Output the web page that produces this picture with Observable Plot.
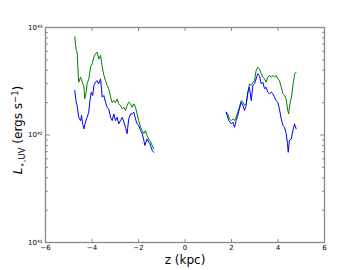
<!DOCTYPE html>
<html><head><meta charset="utf-8">
<script src="https://cdn.jsdelivr.net/npm/d3@7"></script>
<script src="https://cdn.jsdelivr.net/npm/@observablehq/plot@0.6"></script>
<style>body{margin:0;background:#fff} svg{display:block}</style>
</head><body><div id="chart"></div>
<script>
// z positions (kpc) and luminosities (units of 1e42 erg/s)
const zGreenLeft = [-4.74,-4.68,-4.64,-4.59,-4.57,-4.49,-4.42,-4.35,-4.31,-4.25,-4.21,-4.14,-4.06,-3.99,-3.92,-3.85,-3.78,-3.71,-3.63,-3.56,-3.49,-3.42,-3.35,-3.28,-3.20,-3.13,-3.06,-2.99,-2.92,-2.85,-2.77,-2.70,-2.63,-2.56,-2.49,-2.42,-2.34,-2.27,-2.20,-2.13,-2.06,-1.99,-1.91,-1.84,-1.77,-1.70,-1.63,-1.56,-1.48,-1.41,-1.34];
const greenLeft = [8.2,6.1,5.9,3.6,3.1,3.45,3.1,2.8,2.17,2.5,3.0,3.3,4.3,4.6,5.3,5.7,5.9,5.1,5.5,4.3,3.6,3.2,2.9,2.7,2.25,2.0,2.1,2.0,2.17,1.95,1.88,1.75,1.81,1.69,1.88,2.02,1.95,1.81,1.95,1.81,1.57,1.36,1.18,1.10,1.03,1.10,0.99,0.92,0.86,0.80,0.74];
const zBlueLeft = [-4.74,-4.68,-4.64,-4.57,-4.49,-4.45,-4.40,-4.35,-4.28,-4.21,-4.14,-4.09,-4.03,-3.97,-3.92,-3.85,-3.78,-3.71,-3.63,-3.56,-3.49,-3.42,-3.35,-3.28,-3.20,-3.13,-3.06,-2.99,-2.92,-2.85,-2.77,-2.70,-2.63,-2.56,-2.49,-2.42,-2.34,-2.27,-2.20,-2.13,-2.06,-1.99,-1.91,-1.84,-1.77,-1.73,-1.63,-1.56,-1.51,-1.41,-1.35];
const blueLeft = [2.59,2.02,1.88,1.46,1.36,1.52,1.27,1.14,1.32,1.46,1.63,2.09,2.5,2.33,2.89,3.1,3.21,2.99,3.33,2.25,2.33,2.02,1.81,1.75,1.46,1.36,1.57,1.36,1.46,1.27,1.36,1.46,1.32,1.18,1.03,1.42,1.57,1.57,1.63,1.41,1.27,1.23,1.10,1.03,0.89,0.80,0.92,0.86,0.83,0.72,0.69];
const zGreenRight = [1.77,1.84,1.91,1.99,2.06,2.13,2.20,2.27,2.34,2.42,2.49,2.56,2.63,2.70,2.77,2.85,2.92,2.99,3.06,3.13,3.20,3.28,3.35,3.42,3.49,3.56,3.63,3.71,3.78,3.85,3.92,3.99,4.06,4.14,4.21,4.28,4.35,4.42,4.46,4.51,4.58,4.65,4.72,4.78];
const greenRight = [1.63,1.57,1.41,1.36,1.41,1.36,1.46,1.63,1.81,2.09,2.02,1.88,1.95,2.42,2.99,2.89,3.10,3.21,3.98,4.27,4.13,3.71,3.45,3.33,3.10,3.45,3.58,3.45,3.58,3.45,3.58,3.33,3.21,2.78,2.42,2.33,2.17,1.69,1.57,1.95,2.25,2.99,3.71,3.84];
const zBlueRight = [1.77,1.88,1.99,2.06,2.13,2.20,2.27,2.34,2.42,2.49,2.56,2.63,2.70,2.77,2.85,2.92,2.99,3.06,3.13,3.20,3.28,3.35,3.42,3.49,3.56,3.63,3.71,3.78,3.85,3.92,3.99,4.06,4.14,4.21,4.28,4.35,4.41,4.44,4.49,4.57,4.64,4.71,4.78];
const blueRight = [1.63,1.36,1.27,1.32,1.18,1.36,1.52,1.75,2.02,1.88,1.69,1.88,2.50,2.78,2.09,2.89,2.99,3.33,3.71,3.58,2.99,3.10,2.69,2.78,2.50,2.42,2.50,2.42,2.25,2.09,2.02,1.75,1.41,1.23,1.18,1.03,0.83,0.69,0.89,0.92,1.10,1.27,1.14];
const LUNIT = 1e42;

const xTicks = [-6,-4,-2,0,2,4,6];
const yMajor = [1e41,1e42,1e43];
const yMinor = [2e41,3e41,4e41,5e41,6e41,7e41,8e41,9e41,2e42,3e42,4e42,5e42,6e42,7e42,8e42,9e42];

const GREEN = "#008000", BLUE = "#0000ff", AX = "#888";

function rows(zs, ls, seg) { return zs.map((z, i) => ({z, L: ls[i] * LUNIT, seg})); }
const greenRows = [...rows(zGreenLeft, greenLeft, "a"), ...rows(zGreenRight, greenRight, "b")];
const blueRows = [...rows(zBlueLeft, blueLeft, "a"), ...rows(zBlueRight, blueRight, "b")];

const tickShape = {draw(ctx, l) { ctx.moveTo(0, 0); ctx.lineTo(0, -l); }};
const supMap = {"0":"⁰","1":"¹","2":"²","3":"³","4":"⁴","5":"⁵","6":"⁶","7":"⁷","8":"⁸","9":"⁹","-":"⁻"};
const sup = s => String(s).split("").map(c => supMap[c]).join("");

function tv(data, opts) {
  return Plot.vector(data, {anchor: "start", shape: tickShape, stroke: AX, strokeWidth: 1, ...opts});
}

const plot = Plot.plot({
  width: 360, height: 270,
  marginLeft: 45, marginRight: 36, marginTop: 27, marginBottom: 28,
  style: {fontFamily: "DejaVu Sans", background: "#fff"},
  x: {domain: [-6, 6]},
  y: {type: "log", domain: [1e41, 1e43]},
  marks: [
    Plot.line(greenRows, {x: "z", y: "L", z: "seg", stroke: GREEN, strokeWidth: 1}),
    Plot.line(blueRows, {x: "z", y: "L", z: "seg", stroke: BLUE, strokeWidth: 1}),
    // inward ticks
    tv(xTicks, {x: d => d, y: () => 1e41, rotate: 0, length: 3}),
    tv(xTicks, {x: d => d, y: () => 1e43, rotate: 180, length: 3}),
    tv(yMajor, {x: () => -6, y: d => d, rotate: 90, length: 4}),
    tv(yMinor, {x: () => -6, y: d => d, rotate: 90, length: 2}),
    tv(yMajor, {x: () => 6, y: d => d, rotate: 270, length: 4}),
    tv(yMinor, {x: () => 6, y: d => d, rotate: 270, length: 2}),
    Plot.frame({stroke: AX, strokeWidth: 1.3}),
    Plot.axisX({ticks: xTicks, tickSize: 0, tickPadding: 3, fontSize: 7, label: null, tickFormat: d => d < 0 ? "−" + Math.abs(d) : String(d)}),
    Plot.axisY({ticks: yMajor, tickSize: 0, tickPadding: 3, fontSize: 7, label: null, tickFormat: d => "10" + sup(Math.round(Math.log10(d)))})
  ]
});

const svg = d3.select(plot);
svg.append("text")
  .attr("x", 185).attr("y", 264)
  .attr("text-anchor", "middle")
  .attr("font-size", 12).attr("font-family", "DejaVu Sans")
  .text("z (kpc)");

const yl = svg.append("text")
  .attr("transform", "translate(22,130) rotate(-90)")
  .attr("text-anchor", "middle")
  .attr("font-size", 12).attr("font-family", "DejaVu Sans");
yl.append("tspan").attr("font-style", "italic").text("L");
yl.append("tspan").attr("font-size", 8.5).attr("dy", 2.5).text("⋆,UV");
yl.append("tspan").attr("dy", -2.5).text(" (ergs s");
yl.append("tspan").attr("font-size", 8.5).attr("dy", -4.5).text("−1");
yl.append("tspan").attr("dy", 4.5).text(")");

document.getElementById("chart").appendChild(plot);
</script>
</body></html>
